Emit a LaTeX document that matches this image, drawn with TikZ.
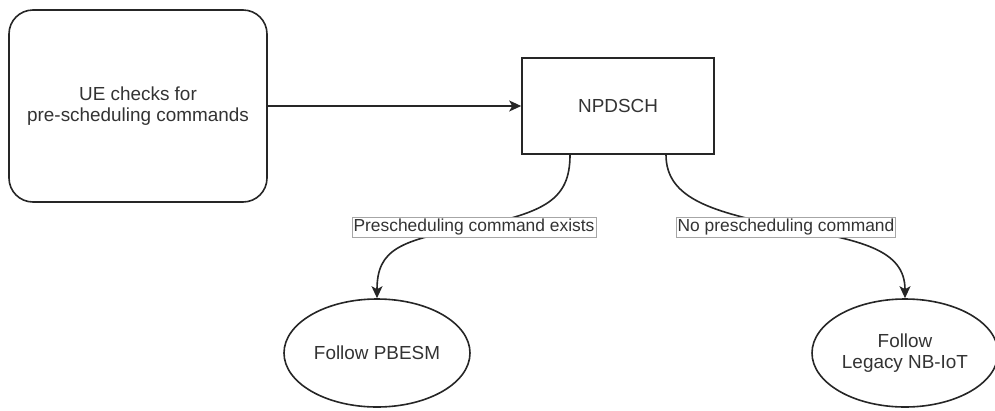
\documentclass[tikz,border=0pt]{standalone}
\usepackage{fontspec}
\setmainfont{Liberation Sans}
\usetikzlibrary{arrows.meta,shapes.geometric,backgrounds}

\definecolor{inkline}{HTML}{262626}
\definecolor{inktext}{HTML}{333333}
\definecolor{lblframe}{HTML}{A6A6A6}

\tikzset{
  every node/.style={text=inktext},
  bigtext/.style={font=\fontsize{18.9pt}{21.7pt}\selectfont, align=center},
  startbox/.style={bigtext, draw=inkline, line width=1.6pt, rounded corners=24pt,
    minimum width=258pt, minimum height=192pt, inner sep=0pt},
  chanbox/.style={bigtext, draw=inkline, line width=1.6pt,
    minimum width=192pt, minimum height=96pt, inner sep=0pt},
  endoval/.style={bigtext, ellipse, draw=inkline, line width=1.6pt,
    minimum width=186pt, minimum height=108pt, inner sep=0pt},
  edgelabel/.style={font=\fontsize{17.4pt}{20pt}\selectfont, fill=white,
    draw=lblframe, line width=0.8pt, inner xsep=1.5pt, inner ysep=1.5pt,
    text height=13.2pt, text depth=3.6pt},
  flow/.style={draw=inkline, line width=1.6pt,
    -{Stealth[length=12pt, width=11pt, inset=3pt]}},
}

\begin{document}
\begin{tikzpicture}[x=1pt, y=-1pt]
  \useasboundingbox (0,0) rectangle (995,410);

  % process blocks
  \node[startbox] (ue) at (138,106) {UE checks for\\pre-scheduling commands};
  \node[chanbox]  (np) at (618,106) {NPDSCH};
  \node[endoval]  (pb) at (377,353) {Follow PBESM};
  \node[endoval]  (lg) at (905,353) {Follow\\Legacy NB-IoT};

  % branch labels
  \node[edgelabel] (yes) at (474,227) {Prescheduling command exists};
  \node[edgelabel] (no)  at (786,227) {No prescheduling command};

  % connectors
  \draw[flow] (ue.east) -- (np.west);

  \begin{scope}[on background layer]
    \draw[flow] ([xshift=-48pt]np.south)
        .. controls +(0,45) and +(71,-15) .. (yes.center)
        .. controls +(-74,13) and +(0,-49) .. (pb.north);
    \draw[flow] ([xshift=48pt]np.south)
        .. controls +(0,45) and +(-71,-15) .. (no.center)
        .. controls +(74,13) and +(0,-49) .. (lg.north);
  \end{scope}
\end{tikzpicture}
\end{document}
